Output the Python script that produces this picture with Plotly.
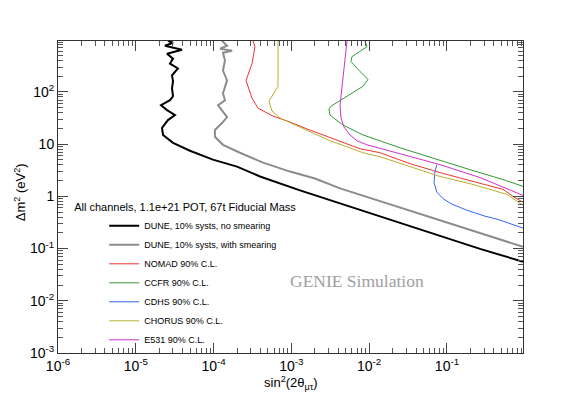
import plotly.graph_objects as go

# DUNE, 10% systs, no smearing
dune_x = [2.59e-5, 3.01e-5, 2.37e-5, 3.93e-5, 2.52e-5, 3.01e-5, 2.75e-5, 3.48e-5, 2.92e-5, 3.01e-5,
          2.92e-5, 3.01e-5, 2.75e-5, 2.11e-5, 2.52e-5, 3.19e-5, 2.59e-5, 2.17e-5, 2.24e-5, 3.01e-5,
          4.97e-5, 9.8e-5, 2.0e-4, 3.95e-4, 1.29e-3, 4.22e-3, 1.38e-2, 6.04e-2, 0.266, 0.948]
dune_y = [950, 873, 766, 643, 540, 434, 349, 281, 207, 159,
          117, 82.6, 69.3, 55.7, 44.8, 36.0, 28.9, 20.4, 15.0, 10.6,
          7.46, 5.04, 3.71, 2.40, 1.30, 0.737, 0.417, 0.207, 0.0987, 0.056]

# DUNE, 10% systs, with smearing
smear_x = [1.28e-4, 1.49e-4, 1.21e-4, 1.73e-4, 1.32e-4, 1.40e-4, 1.32e-4, 1.49e-4, 1.32e-4, 1.40e-4,
           1.14e-4, 1.49e-4, 1.32e-4, 1.04e-4, 1.04e-4, 1.32e-4, 2.18e-4, 4.32e-4, 9.6e-4, 2.01e-3,
           4.22e-3, 1.38e-2, 6.04e-2, 0.266, 0.948]
smear_y = [950, 766, 672, 616, 564, 398, 257, 166, 94, 69.3,
           55.7, 33.0, 26.5, 18.7, 13.8, 9.70, 6.84, 4.42, 2.98, 2.20,
           1.42, 0.804, 0.400, 0.199, 0.108]

nomad_x = [3.21e-4, 3.40e-4, 3.12e-4, 2.61e-4, 3.12e-4, 3.72e-4, 5.80e-4, 9.6e-4, 1.59e-3, 2.87e-3,
           5.19e-3, 7.62e-3, 1.38e-2, 3.34e-2, 8.13e-2, 0.216, 0.525, 0.705, 0.948]
nomad_y = [950, 733, 349, 166, 75.7, 48.9, 34.4, 26.5, 19.5, 13.8,
           10.1, 8.15, 6.84, 4.23, 2.85, 1.93, 1.36, 1.0, 0.769]

ccfr_x = [8.83e-3, 9.38e-3, 6.01e-3, 5.83e-3, 7.62e-3, 9.66e-3, 8.32e-3, 4.60e-3, 3.23e-3, 3.04e-3,
          3.13e-3, 4.60e-3, 8.32e-3, 2.49e-2, 8.13e-2, 0.216, 0.525, 0.948]
ccfr_y = [950, 733, 474, 381, 246, 173, 128, 75.7, 53.3, 46.8,
          36.0, 23.2, 15.0, 8.51, 4.82, 3.11, 2.10, 1.55]

cdhs_x = [7.43e-2, 7.01e-2, 6.81e-2, 7.43e-2, 9.15e-2, 0.116, 0.181, 0.308, 0.439, 0.948]
cdhs_y = [4.05, 2.98, 1.84, 1.19, 0.877, 0.706, 0.542, 0.417, 0.366, 0.247]

chorus_x = [6.73e-4, 6.73e-4, 5.15e-4, 5.64e-4, 7.13e-4, 1.18e-3, 1.90e-3, 3.13e-3, 5.19e-3, 8.32e-3,
            1.38e-2, 3.34e-2, 8.13e-2, 0.216, 0.590, 0.948]
chorus_y = [950, 128, 66.3, 42.9, 31.6, 22.2, 16.4, 11.6, 8.89, 6.84,
            5.74, 3.71, 2.40, 1.69, 1.09, 0.675]

e531_x = [5.19e-3, 4.89e-3, 4.47e-3, 4.22e-3, 4.34e-3, 4.74e-3, 5.66e-3, 6.97e-3, 9.38e-3, 2.49e-2,
          8.13e-2, 0.266, 0.705, 0.948]
e531_y = [950, 434, 133, 55.7, 31.6, 21.3, 15.0, 11.6, 9.70, 6.55,
          4.05, 2.29, 1.24, 1.04]

series = [
    ("DUNE, 10% systs, no smearing", dune_x, dune_y, "black", 2),
    ("DUNE, 10% systs, with smearing", smear_x, smear_y, "#8c8c8c", 2),
    ("NOMAD 90% C.L.", nomad_x, nomad_y, "#ee3333", 1),
    ("CCFR 90% C.L.", ccfr_x, ccfr_y, "#339933", 1),
    ("CDHS 90% C.L.", cdhs_x, cdhs_y, "#3366ee", 1),
    ("CHORUS 90% C.L.", chorus_x, chorus_y, "#b8b030", 1),
    ("E531 90% C.L.", e531_x, e531_y, "#cc33cc", 1),
]

x_ticks = [1e-6, 1e-5, 1e-4, 1e-3, 1e-2, 1e-1]
x_labels = ["10<sup>-6</sup>", "10<sup>-5</sup>", "10<sup>-4</sup>", "10<sup>-3</sup>",
            "10<sup>-2</sup>", "10<sup>-1</sup>"]
y_ticks = [1e-3, 1e-2, 1e-1, 1, 10, 100]
y_labels = ["10<sup>-3</sup>", "10<sup>-2</sup>", "10<sup>-1</sup>", "1", "10", "10<sup>2</sup>"]

# minor tick positions at 2..9 times each decade
x_minor = [k * 10.0 ** e for e in range(-6, 0) for k in range(2, 10)]
y_minor = [k * 10.0 ** e for e in range(-3, 3) for k in range(2, 10)]

fig = go.Figure()
for name, xs, ys, col, w in series:
    fig.add_trace(go.Scatter(x=xs, y=ys, mode="lines", name=name,
                             line=dict(color=col, width=w)))

axis_style = dict(
    type="log", showgrid=False, zeroline=False, automargin=False,
    showline=True, linecolor="#333333", linewidth=1, mirror="allticks",
    ticks="inside", ticklen=10, tickcolor="#444444",
    tickfont=dict(family="Liberation Sans", size=14, color="black"),
)

fig.update_xaxes(**axis_style, range=[-6, -0.023], tickvals=x_ticks, ticktext=x_labels,
                 minor=dict(ticks="inside", ticklen=5, tickcolor="#555555", showgrid=False,
                            tickmode="array", tickvals=x_minor))
fig.update_yaxes(**axis_style, range=[-3, 2.975], tickvals=y_ticks, ticktext=y_labels,
                 minor=dict(ticks="inside", ticklen=5, tickcolor="#555555", showgrid=False,
                            tickmode="array", tickvals=y_minor))

title_font = dict(family="Liberation Sans", size=13, color="black")
fig.add_annotation(text="sin<sup>2</sup>(2θ<sub>μτ</sub>)", xref="paper", yref="paper",
                   x=0.5, y=-0.096, yanchor="middle", showarrow=False, font=title_font)
fig.add_annotation(text="Δm<sup>2</sup> (eV<sup>2</sup>)", xref="paper", yref="paper",
                   x=-0.082, y=0.515, textangle=-90, xanchor="center", yanchor="middle",
                   showarrow=False, font=title_font)

fig.add_annotation(text="GENIE Simulation", xref="paper", yref="paper", x=0.791, y=0.192,
                   showarrow=False, font=dict(family="Liberation Serif", size=17.5, color="#a0a0a0"))

# the page body adds an 8px margin, so the figure is 8px smaller on each side
fig.update_layout(
    width=574, height=385,
    margin=dict(l=50, r=59, t=33, b=40),
    plot_bgcolor="white", paper_bgcolor="white",
    showlegend=True,
    legend=dict(
        x=0.0305, y=0.5, xanchor="left", yanchor="top",
        bgcolor="rgba(0,0,0,0)",
        title=dict(text="All channels, 1.1e+21 POT, 67t Fiducial Mass", side="top",
                   font=dict(family="Liberation Sans", size=11, color="black")),
        font=dict(family="Liberation Sans", size=9, color="black"),
        indentation=32,
    ),
)

fig.write_html("out.html")
